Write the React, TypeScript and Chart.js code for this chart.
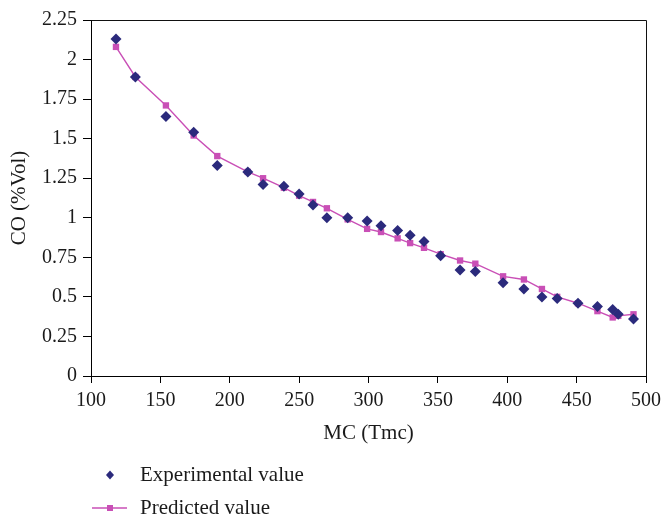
import React, { useEffect, useRef } from 'react';
import { Chart, registerables } from 'chart.js';

Chart.register(...registerables);

// ---- data ----
const mcValues = [118, 132, 154, 174, 191, 213, 224, 239, 250, 260, 270, 285, 299, 309, 321, 330, 340, 352, 366, 377, 397, 412, 425, 436, 451, 465, 476, 480, 491];
const experimentalValues = [2.13, 1.89, 1.64, 1.54, 1.33, 1.29, 1.21, 1.2, 1.15, 1.08, 1.0, 1.0, 0.98, 0.95, 0.92, 0.89, 0.85, 0.76, 0.67, 0.66, 0.59, 0.55, 0.5, 0.49, 0.46, 0.44, 0.42, 0.39, 0.36];
const predictedValues = [2.08, 1.89, 1.71, 1.52, 1.39, 1.29, 1.25, 1.19, 1.14, 1.1, 1.06, 0.99, 0.93, 0.91, 0.87, 0.84, 0.81, 0.77, 0.73, 0.71, 0.63, 0.61, 0.55, 0.5, 0.46, 0.41, 0.37, 0.38, 0.39];
const seriesLabels = ['Experimental value', 'Predicted value'];
const xTicks = [100, 150, 200, 250, 300, 350, 400, 450, 500];
const yTicks = [0, 0.25, 0.5, 0.75, 1, 1.25, 1.5, 1.75, 2, 2.25];
const yTickLabels = ['0', '0.25', '0.5', '0.75', '1', '1.25', '1.5', '1.75', '2', '2.25'];
const xTitle = 'MC (Tmc)';
const yTitle = 'CO (%Vol)';

const FONT = "'Liberation Serif', 'Times New Roman', serif";
const EXP_COLOR = '#2b2a7c';
const PRED_COLOR = '#c94fb6';
const TEXT_COLOR = '#1a1a1a';

const framePlugin = {
  id: 'frame',
  beforeDatasetsDraw(chart: any) {
    const { ctx, chartArea } = chart;
    const { left, right, top, bottom } = chartArea;
    ctx.save();
    ctx.strokeStyle = '#111';
    ctx.lineWidth = 1;
    ctx.beginPath();
    ctx.moveTo(Math.round(left) + 0.5, Math.round(top) + 0.5);
    ctx.lineTo(Math.round(right) + 0.5, Math.round(top) + 0.5);
    ctx.lineTo(Math.round(right) + 0.5, Math.round(bottom) + 0.5);
    ctx.stroke();
    ctx.restore();
  },
};

const legendPlugin = {
  id: 'customLegend',
  afterDraw(chart: any) {
    const { ctx, chartArea } = chart;
    const ds = chart.data.datasets;
    const x0 = chartArea.left;
    const rows = [chart.height - 42, chart.height - 9];
    ctx.save();
    ctx.font = `21px ${FONT}`;
    ctx.textBaseline = 'middle';
    ctx.textAlign = 'left';
    // row 1: diamond
    const y1 = rows[0];
    ctx.fillStyle = ds[0].backgroundColor;
    ctx.beginPath();
    ctx.moveTo(x0 + 19, y1 - 4.5);
    ctx.lineTo(x0 + 23, y1);
    ctx.lineTo(x0 + 19, y1 + 4.5);
    ctx.lineTo(x0 + 15, y1);
    ctx.closePath();
    ctx.fill();
    ctx.fillStyle = TEXT_COLOR;
    ctx.fillText(ds[0].label, x0 + 49, y1);
    // row 2: line + square
    const y2 = rows[1];
    ctx.strokeStyle = ds[1].borderColor;
    ctx.lineWidth = 1.5;
    ctx.beginPath();
    ctx.moveTo(x0 + 1, y2);
    ctx.lineTo(x0 + 36, y2);
    ctx.stroke();
    ctx.fillStyle = ds[1].backgroundColor;
    ctx.fillRect(x0 + 16, y2 - 3, 6, 6);
    ctx.fillStyle = TEXT_COLOR;
    ctx.fillText(ds[1].label, x0 + 49, y2);
    ctx.restore();
  },
};

export default function App() {
  const canvasRef = useRef<HTMLCanvasElement | null>(null);

  useEffect(() => {
    document.body.style.margin = '0';
    const canvas = canvasRef.current;
    if (!canvas) return;
    const chart = new Chart(canvas, {
      type: 'scatter',
      data: {
        datasets: [
          {
            label: seriesLabels[0],
            data: mcValues.map((x, i) => ({ x, y: experimentalValues[i] })),
            pointStyle: 'rectRot',
            pointRadius: 5.5,
            backgroundColor: EXP_COLOR,
            borderColor: EXP_COLOR,
            borderWidth: 0,
            showLine: false,
            order: 0,
          },
          {
            label: seriesLabels[1],
            data: mcValues.map((x, i) => ({ x, y: predictedValues[i] })),
            pointStyle: 'rect',
            pointRadius: 4.5,
            backgroundColor: PRED_COLOR,
            borderColor: PRED_COLOR,
            pointBorderWidth: 0,
            borderWidth: 1.4,
            showLine: true,
            tension: 0,
            order: 1,
          },
        ],
      },
      options: {
        animation: false,
        responsive: false,
        layout: { padding: { left: 0, top: 20, right: 17, bottom: 71 } },
        plugins: {
          legend: { display: false },
          tooltip: { enabled: false },
        },
        scales: {
          x: {
            type: 'linear',
            min: 100,
            max: 500,
            afterFit: (scale: any) => { scale.height = 70; },
            afterBuildTicks: (scale: any) => { scale.ticks = xTicks.map((v) => ({ value: v })); },
            ticks: {
              font: { family: FONT, size: 20 },
              color: TEXT_COLOR,
              padding: 6,
              maxRotation: 0,
              callback: (v: any) => String(v),
            },
            grid: { drawOnChartArea: false, drawTicks: true, tickLength: 7, color: '#000' },
            border: { color: '#000', width: 1 },
            title: {
              display: true,
              text: xTitle,
              font: { family: FONT, size: 21 },
              color: TEXT_COLOR,
              padding: { top: 0, bottom: 0 },
            },
          },
          y: {
            type: 'linear',
            min: 0,
            max: 2.25,
            afterFit: (scale: any) => { scale.width = 91; },
            afterBuildTicks: (scale: any) => { scale.ticks = yTicks.map((v) => ({ value: v })); },
            ticks: {
              font: { family: FONT, size: 20 },
              color: TEXT_COLOR,
              padding: 6,
              callback: (v: any) => {
                const i = yTicks.findIndex((t) => Math.abs(t - v) < 1e-9);
                return i >= 0 ? yTickLabels[i] : '';
              },
            },
            grid: { drawOnChartArea: false, drawTicks: true, tickLength: 8, color: '#000' },
            border: { color: '#000', width: 1 },
            title: {
              display: true,
              text: yTitle,
              font: { family: FONT, size: 21 },
              color: TEXT_COLOR,
              padding: { top: 7, bottom: 0 },
            },
          },
        },
      },
      plugins: [framePlugin, legendPlugin],
    } as any);
    return () => chart.destroy();
  }, []);

  return (
    <div style={{ position: 'absolute', left: 0, top: 0, width: 667, height: 517, background: '#fff' }}>
      <canvas ref={canvasRef} width={667} height={517} />
    </div>
  );
}
